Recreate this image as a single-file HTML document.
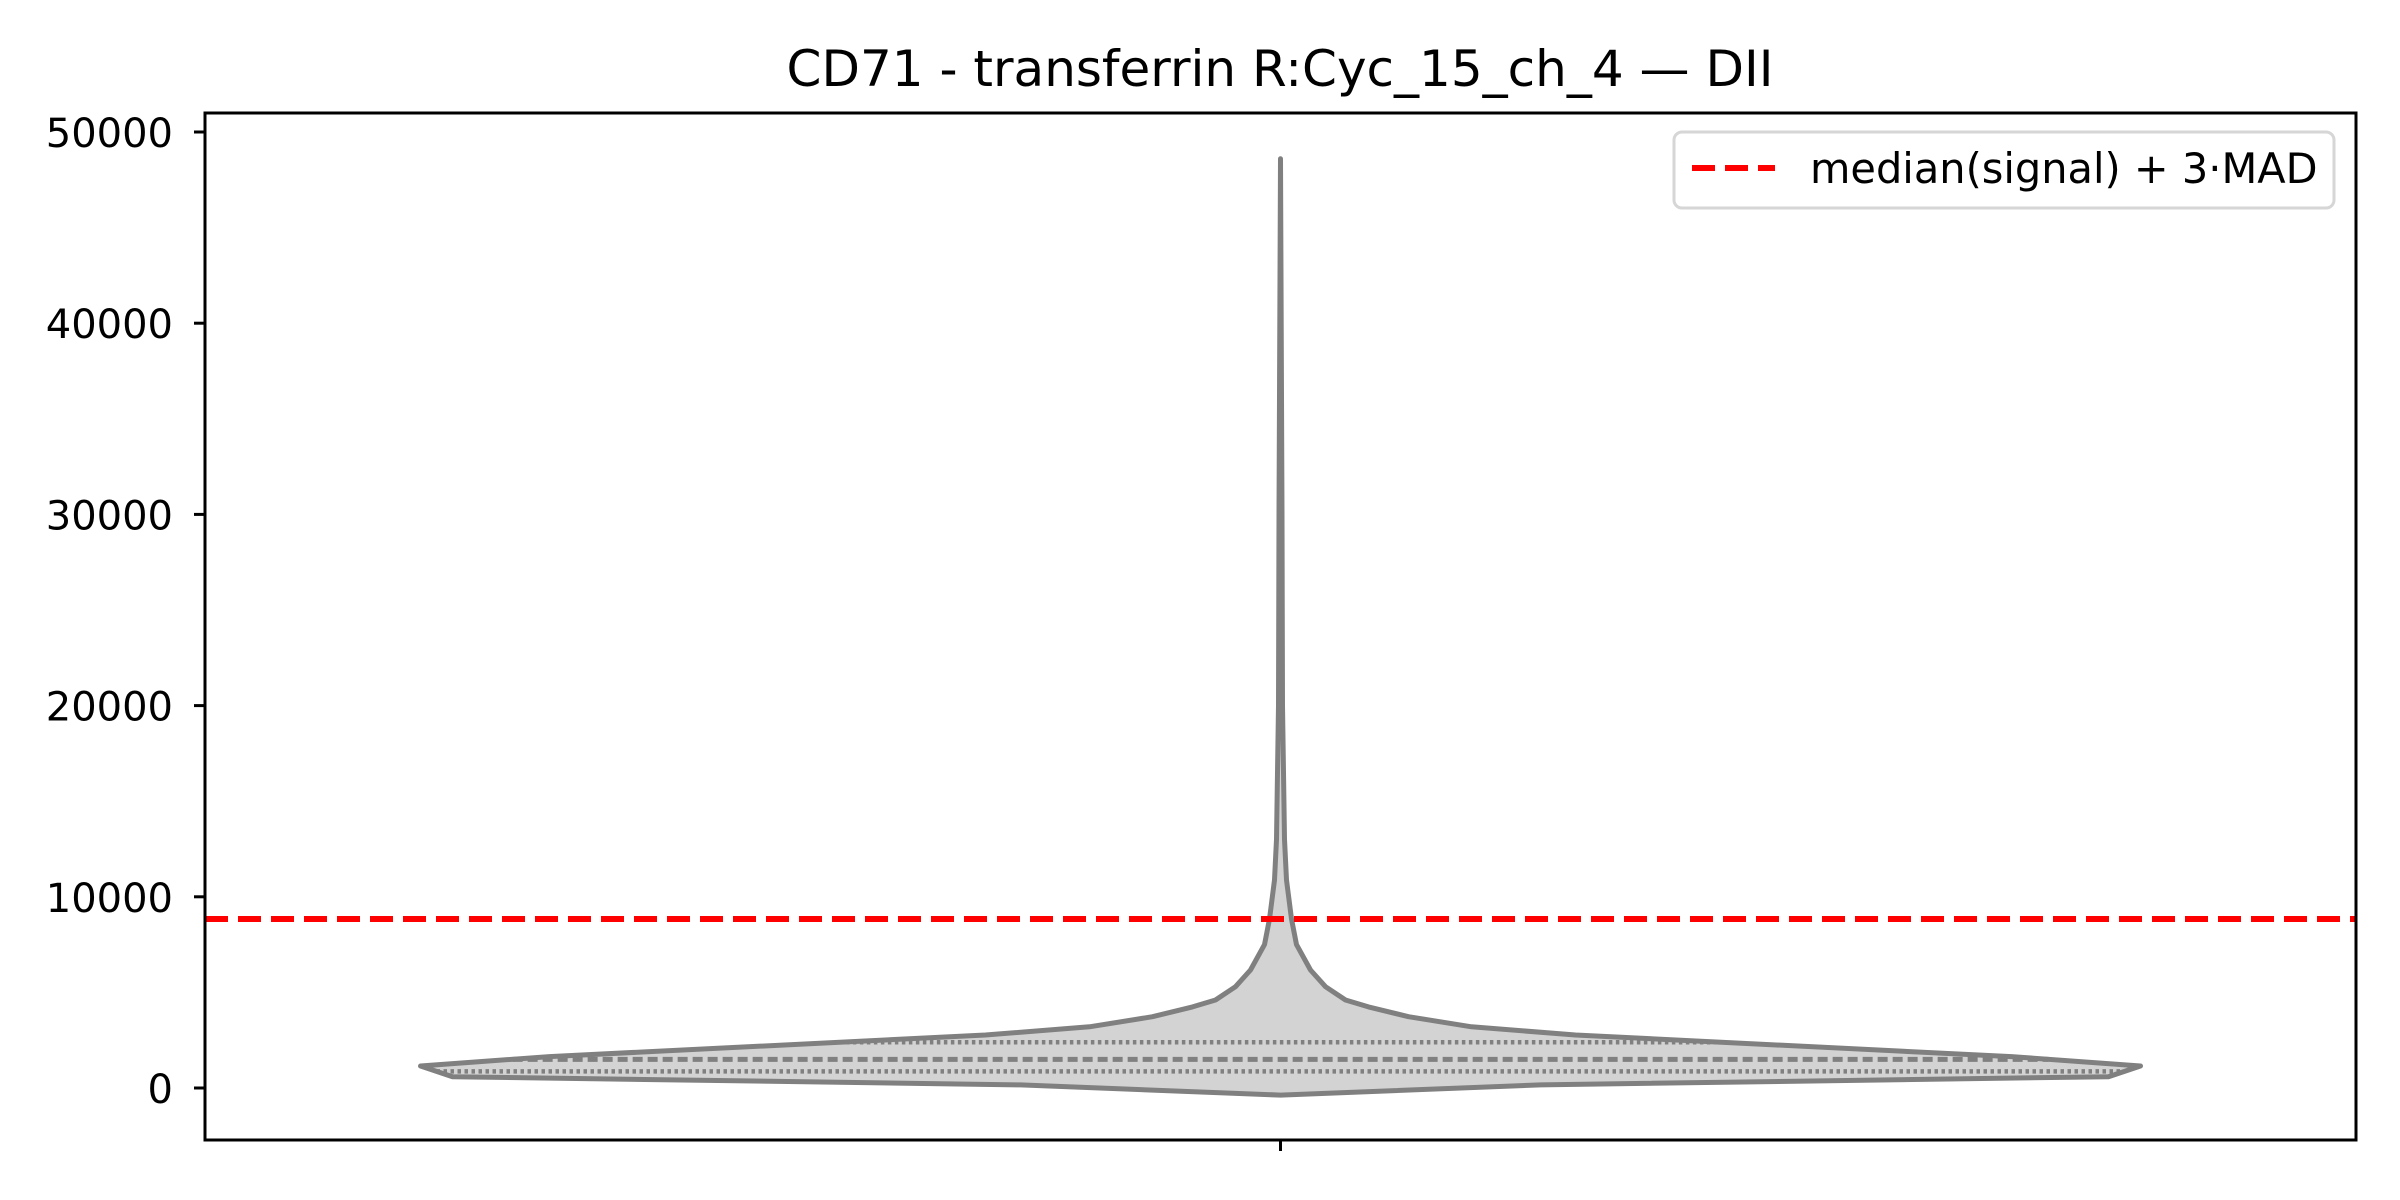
<!DOCTYPE html>
<html><head><meta charset="utf-8">
<style>
html,body{margin:0;padding:0;background:#fff;}
svg{display:block;}
text{font-family:"DejaVu Sans","Liberation Sans",sans-serif;fill:#000;}
</style></head>
<body>
<svg id="chart" width="2400" height="1200" viewBox="0 0 2400 1200" xmlns="http://www.w3.org/2000/svg">
  <rect x="0" y="0" width="2400" height="1200" fill="#fff"/>
  <text x="1280" y="86" font-size="50" text-anchor="middle">CD71 - transferrin R:Cyc_15_ch_4 — DII</text>
  <g id="plot"></g>
  <rect x="205" y="113" width="2151" height="1027" fill="none" stroke="#000" stroke-width="3"/>
  <g id="legend">
    <rect x="1674" y="132" width="660" height="76" rx="8" fill="#fff" fill-opacity="0.8" stroke="#d6d6d6" stroke-width="3"/>
    <line x1="1692" y1="168" x2="1775" y2="168" stroke="#ff0000" stroke-width="6" stroke-dasharray="23,10"/>
    <text x="1810" y="183" font-size="41.5">median(signal) + 3·MAD</text>
  </g>
</svg>
<script>
const yTicks = [0, 10000, 20000, 30000, 40000, 50000];
const yTickLabels = ["0", "10000", "20000", "30000", "40000", "50000"];
const categories = ["DII"];
const violinValues = [-370, 160, 590, 1150, 1640, 2770, 3200, 3730, 4240, 4600, 5300, 6170, 7500, 8840, 10880, 13000, 20000, 30000, 48600];
const violinDensity = [0, 260, 828, 860, 731, 295, 191, 128, 88, 65, 45, 30, 16, 11, 6, 4, 2, 1.5, 0];
const quartileValues = [870, 1500, 2390];
const thresholdValue = [8840];

const NS = "http://www.w3.org/2000/svg";
const X0 = 205, X1 = 2356, Y0 = 113, Y1 = 1140;
function yScale(v){ return 1088 - v * (956 / 50000); }
function xScale(i){ return X0 + (X1 - X0) * (i + 0.5) / categories.length; }
const maxDens = Math.max(...violinDensity);
function wScale(d){ return d / maxDens * 860; }
function densAt(v){
  for (let i = 0; i < violinValues.length - 1; i++) {
    const a = violinValues[i], b = violinValues[i+1];
    if (v >= a && v <= b) { const t = (v - a) / (b - a); return violinDensity[i] + t * (violinDensity[i+1] - violinDensity[i]); }
  }
  return 0;
}
function mk(tag, attrs, parent){ const e = document.createElementNS(NS, tag); for (const k in attrs) e.setAttribute(k, attrs[k]); parent.appendChild(e); return e; }

const svg = document.getElementById('chart');
const plot = document.getElementById('plot');

yTicks.forEach((t, i) => {
  const y = yScale(t);
  const tk = mk('line', {x1: X0 - 11, x2: X0, y1: y, y2: y, stroke: '#000', 'stroke-width': 3}, svg);
  
  
  const lb = mk('text', {x: 173, y: y + 15, 'font-size': 40, 'text-anchor': 'end'}, svg);
  lb.textContent = yTickLabels[i];
  
  
});
categories.forEach((c, i) => {
  const x = xScale(i);
  const tk = mk('line', {x1: x, x2: x, y1: Y1, y2: Y1 + 11, stroke: '#000', 'stroke-width': 3}, svg);
  
  
});

const cx = xScale(0);
let right = [], left = [];
violinValues.forEach((v, i) => {
  const w = wScale(violinDensity[i]);
  right.push((cx + w).toFixed(1) + ',' + yScale(v).toFixed(1));
  left.unshift((cx - w).toFixed(1) + ',' + yScale(v).toFixed(1));
});
const poly = mk('polygon', {points: right.concat(left).join(' '), fill: '#d3d3d3', stroke: '#808080', 'stroke-width': 5, 'stroke-linejoin': 'round'}, plot);



quartileValues.forEach((q, i) => {
  const w = wScale(densAt(q));
  const y = yScale(q);
  const ln = mk('line', {x1: cx - w, x2: cx + w, y1: y, y2: y, stroke: '#808080', 'stroke-width': i === 1 ? 5 : 4.5, 'stroke-dasharray': i === 1 ? '10,5' : '3.5,3.5'}, plot);
  
  
});

const ty = yScale(thresholdValue[0]);
const th = mk('line', {x1: X0, x2: X1, y1: ty, y2: ty, stroke: '#ff0000', 'stroke-width': 6, 'stroke-dasharray': '23,10'}, plot);


</script>
</body></html>
